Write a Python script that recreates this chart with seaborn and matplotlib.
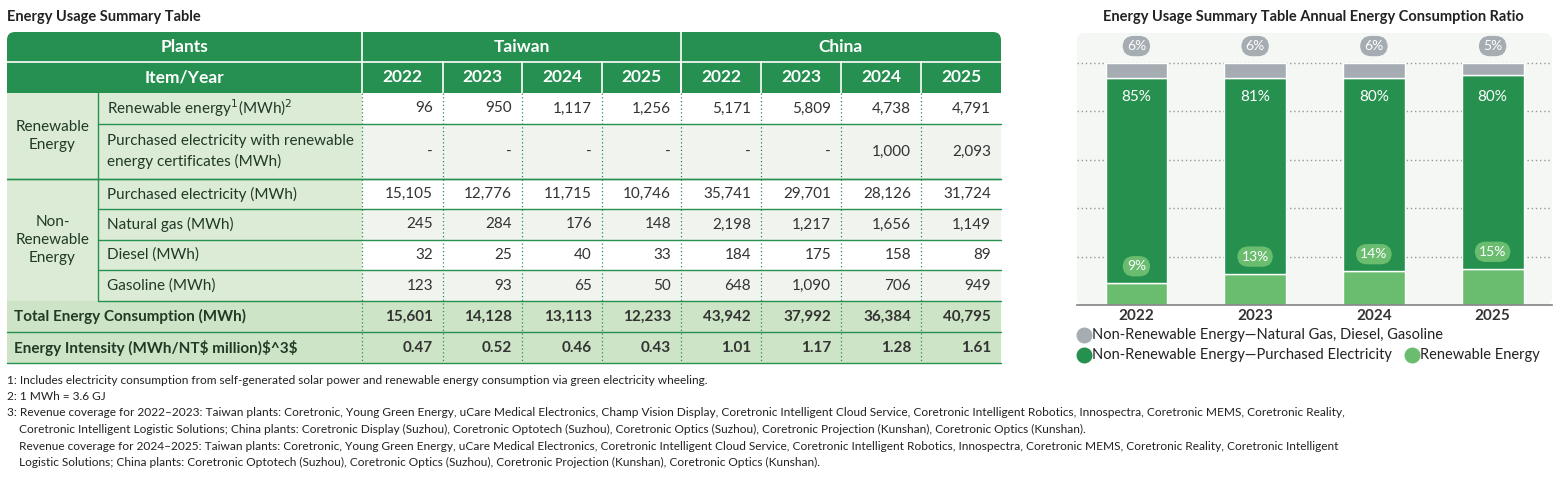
import numpy as np
import pandas as pd
import seaborn as sns
import matplotlib.pyplot as plt
from matplotlib.patches import Rectangle, FancyBboxPatch

sns.set_theme(style="white")
plt.rcParams['font.family'] = ['Lato', 'DejaVu Sans']

# ---- data ----
years = ["2022", "2023", "2024", "2025"]
row_labels = ["Renewable energy$^1$(MWh)$^2$",
              "Purchased electricity with renewable\nenergy certificates (MWh)",
              "Purchased electricity (MWh)", "Natural gas (MWh)",
              "Diesel (MWh)", "Gasoline (MWh)"]
taiwan = [["96", "950", "1,117", "1,256"],
          ["-", "-", "-", "-"],
          ["15,105", "12,776", "11,715", "10,746"],
          ["245", "284", "176", "148"],
          ["32", "25", "40", "33"],
          ["123", "93", "65", "50"]]
china = [["5,171", "5,809", "4,738", "4,791"],
         ["-", "-", "1,000", "2,093"],
         ["35,741", "29,701", "28,126", "31,724"],
         ["2,198", "1,217", "1,656", "1,149"],
         ["184", "175", "158", "89"],
         ["648", "1,090", "706", "949"]]
total_tw = ["15,601", "14,128", "13,113", "12,233"]
total_cn = ["43,942", "37,992", "36,384", "40,795"]
intens_tw = ["0.47", "0.52", "0.46", "0.43"]
intens_cn = ["1.01", "1.17", "1.28", "1.61"]

renewable_pct = [9, 13, 14, 15]
purchased_pct = [85, 81, 80, 80]
other_pct = [6, 6, 6, 5]

footnotes = [
    "1: Includes electricity consumption from self-generated solar power and renewable energy consumption via green electricity wheeling.",
    "2: 1 MWh = 3.6 GJ",
    "3: Revenue coverage for 2022\u20132023: Taiwan plants: Coretronic, Young Green Energy, uCare Medical Electronics, Champ Vision Display, Coretronic Intelligent Cloud Service, Coretronic Intelligent Robotics, Innospectra, Coretronic MEMS, Coretronic Reality,",
    "    Coretronic Intelligent Logistic Solutions; China plants: Coretronic Display (Suzhou), Coretronic Optotech (Suzhou), Coretronic Optics (Suzhou), Coretronic Projection (Kunshan), Coretronic Optics (Kunshan).",
    "    Revenue coverage for 2024\u20132025: Taiwan plants: Coretronic, Young Green Energy, uCare Medical Electronics, Coretronic Intelligent Cloud Service, Coretronic Intelligent Robotics, Innospectra, Coretronic MEMS, Coretronic Reality, Coretronic Intelligent",
    "    Logistic Solutions; China plants: Coretronic Optotech (Suzhou), Coretronic Optics (Suzhou), Coretronic Projection (Kunshan), Coretronic Optics (Kunshan).",
]

GREEN = "#25904f"
LIGHT = "#dcebd6"
TOTAL = "#cde4c6"
ALT = "#f0f3ee"
DARKTXT = "#1f3a25"

fig = plt.figure(figsize=(15.56, 4.82), dpi=100)
ax = fig.add_axes([0, 0, 1, 1])
ax.set_xlim(0, 1556)
ax.set_ylim(482, 0)
ax.axis("off")

# ---- table geometry ----
x0, xg, xi = 7, 98, 362
col_x = [362, 443, 522, 602, 681, 761, 841, 921, 1001]
ys = [32, 62, 93, 124, 179, 209, 240, 270, 301, 332, 363]

ax.text(7, 17, "Energy Usage Summary Table", fontsize=10.5, fontweight="bold", va="center", color="#222")

# header
ax.add_patch(FancyBboxPatch((x0, ys[0]), 1001 - x0, ys[2] - ys[0],
                            boxstyle="round,pad=0,rounding_size=8", fc=GREEN, ec="none"))
ax.add_patch(Rectangle((x0, ys[0] + 10), 1001 - x0, ys[2] - ys[0] - 10, fc=GREEN, ec="none"))
ax.plot([x0, 1001], [ys[1], ys[1]], color="white", lw=1.2)
for xv in [362, 681]:
    ax.plot([xv, xv], [ys[0], ys[2]], color="white", lw=1.2)
for xv in col_x[1:-1]:
    ax.plot([xv, xv], [ys[1], ys[2]], color="white", lw=1.2)
ax.text((x0 + xi) / 2, (ys[0] + ys[1]) / 2, "Plants", color="white", fontsize=12.5, fontweight="bold", ha="center", va="center")
ax.text((x0 + xi) / 2, (ys[1] + ys[2]) / 2, "Item/Year", color="white", fontsize=12.5, fontweight="bold", ha="center", va="center")
ax.text((362 + 681) / 2, (ys[0] + ys[1]) / 2, "Taiwan", color="white", fontsize=12.5, fontweight="bold", ha="center", va="center")
ax.text((681 + 1001) / 2, (ys[0] + ys[1]) / 2, "China", color="white", fontsize=12.5, fontweight="bold", ha="center", va="center")
for k in range(8):
    ax.text((col_x[k] + col_x[k + 1]) / 2, (ys[1] + ys[2]) / 2, years[k % 4], color="white",
            fontsize=12.5, fontweight="bold", ha="center", va="center")

# body rows
ax.add_patch(Rectangle((x0, ys[2]), xi - x0, ys[8] - ys[2], fc=LIGHT, ec="none"))
for r in range(6):
    top, bot = ys[r + 2], ys[r + 3]
    fc = "white" if r % 2 == 0 else ALT
    ax.add_patch(Rectangle((xi, top), 1001 - xi, bot - top, fc=fc, ec="none"))
    ax.text(xg + 9, (top + bot) / 2, row_labels[r], fontsize=11, va="center", color=DARKTXT, linespacing=1.45)
    vals = taiwan[r] + china[r]
    for k in range(8):
        ax.text(col_x[k + 1] - 10, (top + bot) / 2, vals[k], fontsize=11, ha="right", va="center", color="#333")
    left = x0 if r in (1,) else xg
    ax.plot([left if r == 1 else xg, 1001], [bot, bot], color=GREEN, lw=1)
ax.plot([x0, 1001], [ys[4], ys[4]], color=GREEN, lw=1)
ax.plot([xg, xg], [ys[2], ys[8]], color=GREEN, lw=1)
ax.text((x0 + xg) / 2, (ys[2] + ys[4]) / 2, "Renewable\nEnergy", fontsize=11, ha="center", va="center", color=DARKTXT, linespacing=1.4)
ax.text((x0 + xg) / 2, (ys[4] + ys[8]) / 2, "Non-\nRenewable\nEnergy", fontsize=11, ha="center", va="center", color=DARKTXT, linespacing=1.4)

# total & intensity
for j, (lab, tw, cn) in enumerate([("Total Energy Consumption (MWh)", total_tw, total_cn),
                                    ("Energy Intensity (MWh/NT$ million)$^3$", intens_tw, intens_cn)]):
    top, bot = ys[8 + j], ys[9 + j]
    ax.add_patch(Rectangle((x0, top), 1001 - x0, bot - top, fc=TOTAL, ec="none"))
    ax.text(x0 + 7, (top + bot) / 2, lab, fontsize=11, fontweight="bold", va="center", color=DARKTXT)
    for k, v in enumerate(tw + cn):
        ax.text(col_x[k + 1] - 10, (top + bot) / 2, v, fontsize=11, fontweight="bold", ha="right", va="center", color="#333")
    ax.plot([x0, 1001], [bot, bot], color=GREEN, lw=1)
for xv in col_x[1:-1]:
    ax.plot([xv, xv], [ys[2], ys[10]], color=GREEN, lw=0.9, ls=(0, (1, 2)))
ax.plot([362, 362], [ys[2], ys[10]], color=GREEN, lw=0.9, ls=(0, (1, 2)))

for i, t in enumerate(footnotes):
    ax.text(7, 380 + i * 16.5, t, fontsize=8.6, va="center", color="#222")

# ---- bar chart ----
ax.text(1313, 17, "Energy Usage Summary Table Annual Energy Consumption Ratio", fontsize=10.5,
        fontweight="bold", ha="center", va="center", color="#222")
ax.add_patch(FancyBboxPatch((1077, 33), 475, 272, boxstyle="round,pad=0,rounding_size=8",
                            fc="#f5f7f4", ec="none", zorder=0))

bx = fig.add_axes([1077 / 1556, 1 - 305 / 482, 475 / 1556, 272 / 482])
bx.set_facecolor("none")
df = pd.DataFrame({"year": years, "ren": renewable_pct, "pur": purchased_pct, "oth": other_pct})
sns.barplot(data=df, x="year", y="ren", color="#6abd6f", width=0.52, ax=bx, saturation=1)
bx.bar(range(4), df["pur"], bottom=df["ren"], color="#26904e", width=0.52)
bx.bar(range(4), df["oth"], bottom=df["ren"] + df["pur"], color="#a5acb2", width=0.52)
bx.set_xlim(-0.5, 3.5)
bx.set_ylim(0, 112.4)
for g in [20, 40, 60, 80, 100]:
    bx.axhline(g, color="#999", ls=(0, (1, 2)), lw=1, zorder=0)
for i in range(4):
    bx.text(i, renewable_pct[i] + 7, f"{renewable_pct[i]}%", color="white", fontsize=10, ha="center", va="center",
            bbox=dict(boxstyle="round,pad=0.3,rounding_size=0.8", fc="#6abd6f", ec="none"))
    bx.text(i, 86, f"{purchased_pct[i]}%", color="white", fontsize=11, ha="center", va="center")
    bx.text(i, 107, f"{other_pct[i]}%", color="white", fontsize=10, ha="center", va="center",
            bbox=dict(boxstyle="round,pad=0.3,rounding_size=0.8", fc="#a5acb2", ec="none"))
for s in ["top", "right", "left"]:
    bx.spines[s].set_visible(False)
bx.spines["bottom"].set_color("#888")
bx.set_yticks([])
bx.set_xlabel("")
bx.set_ylabel("")
bx.tick_params(axis="x", length=0, pad=3)
for t in bx.get_xticklabels():
    t.set_fontsize(11)
    t.set_fontweight("bold")
    t.set_color("#333")

legend_items = [(1084, 335, "#a5acb2", "Non-Renewable Energy\u2014Natural Gas, Diesel, Gasoline"),
                (1084, 355, "#26904e", "Non-Renewable Energy\u2014Purchased Electricity"),
                (1412, 355, "#6abd6f", "Renewable Energy")]
for lx, ly, c, lab in legend_items:
    ax.scatter([lx], [ly], s=110, color=c, zorder=3)
    ax.text(lx + 8, ly, lab, fontsize=10.5, va="center", color="#222")

fig.savefig("out.png", dpi=100)
